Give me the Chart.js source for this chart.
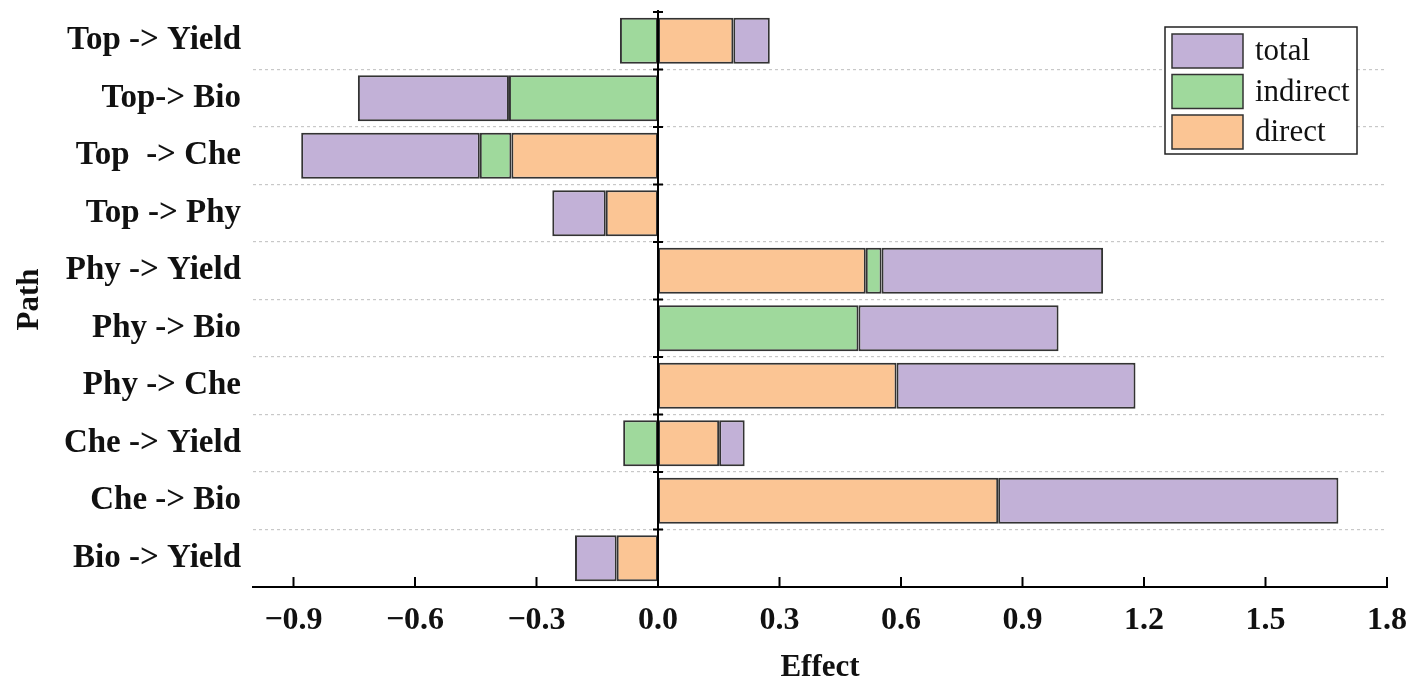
<!DOCTYPE html>
<html>
<head>
<meta charset="utf-8">
<script src="https://cdn.jsdelivr.net/npm/chart.js@4.4.1/dist/chart.umd.min.js"></script>
<style>
  html, body { margin: 0; padding: 0; background: #fff; }
  #wrap { width: 1418px; height: 689px; position: relative; }
</style>
</head>
<body>
<div id="wrap"><canvas id="effectChart"></canvas></div>
<script>
// paths, top to bottom
const paths = ['Top -> Yield', 'Top-> Bio', 'Top  -> Che', 'Top -> Phy', 'Phy -> Yield',
               'Phy -> Bio', 'Phy -> Che', 'Che -> Yield', 'Che -> Bio', 'Bio -> Yield'];
const directEffect   = [0.186, 0, -0.362, -0.129, 0.513, 0, 0.589, 0.151, 0.84, -0.102];
const indirectEffect = [-0.094, -0.368, -0.078, 0, 0.039, 0.495, 0, -0.086, 0, 0];
const totalEffect    = [0.09, -0.373, -0.441, -0.132, 0.547, 0.494, 0.59, 0.063, 0.84, -0.103];
const xTicks = [-0.9, -0.6, -0.3, 0, 0.3, 0.6, 0.9, 1.2, 1.5, 1.8];

const serif = "'Liberation Serif', 'Times New Roman', serif";
const colTotal = '#c2b1d7';
const colIndirect = '#9fd99c';
const colDirect = '#fbc594';
const edge = '#333333';

// inward x ticks, zero line, little marks on it, and the boxed legend
const decorPlugin = {
    id: 'decor',
    afterDraw(chart) {
        const c = chart.ctx;
        const area = chart.chartArea;
        const xs = chart.scales.x;
        const ys = chart.scales.y;
        c.save();
        c.strokeStyle = '#000';

        const x0 = xs.getPixelForValue(0);
        c.lineWidth = 2;
        c.beginPath();
        c.moveTo(x0, area.top - 2);
        c.lineTo(x0, area.bottom);
        c.stroke();

        xTicks.forEach(v => {
            const px = xs.getPixelForValue(v);
            c.beginPath();
            c.moveTo(px, area.bottom);
            c.lineTo(px, area.bottom - 10);
            c.stroke();
        });

        const step = (ys.getPixelForValue(1) - ys.getPixelForValue(0));
        for (let i = 0; i < paths.length; i++) {
            const py = ys.getPixelForValue(i) - step / 2;
            c.beginPath();
            c.moveTo(x0 - 5, py);
            c.lineTo(x0 + 5, py);
            c.stroke();
        }

        // legend
        const lx = area.right - 222, ly = 27, lw = 192, lh = 127;
        c.lineWidth = 1.5;
        c.strokeStyle = '#222';
        c.fillStyle = '#fff';
        c.fillRect(lx, ly, lw, lh);
        c.strokeRect(lx, ly, lw, lh);
        const items = [['total', colTotal], ['indirect', colIndirect], ['direct', colDirect]];
        c.font = '31px ' + serif;
        c.textBaseline = 'middle';
        items.forEach((it, i) => {
            const sy = ly + 7 + i * 40.5;
            c.fillStyle = it[1];
            c.fillRect(lx + 7, sy, 71, 34);
            c.strokeStyle = edge;
            c.strokeRect(lx + 7, sy, 71, 34);
            c.fillStyle = '#111';
            c.fillText(it[0], lx + 90, sy + 18);
        });
        c.restore();
    }
};

const ctx = document.getElementById('effectChart').getContext('2d');
const effectChart = new Chart(ctx, {
    type: 'bar',
    data: {
        labels: paths,
        datasets: [
            { label: 'direct', data: directEffect, backgroundColor: colDirect },
            { label: 'indirect', data: indirectEffect, backgroundColor: colIndirect },
            { label: 'total', data: totalEffect, backgroundColor: colTotal }
        ].map(ds => Object.assign(ds, {
            borderColor: edge,
            borderWidth: 2,
            borderSkipped: false,
            categoryPercentage: 1,
            barPercentage: 0.8,
            stack: 'effects'
        }))
    },
    options: {
        indexAxis: 'y',
        responsive: true,
        maintainAspectRatio: false,
        animation: false,
        layout: { padding: { top: 12, right: 31, left: 0, bottom: 0 } },
        plugins: {
            legend: { display: false },
            tooltip: { enabled: false }
        },
        scales: {
            x: {
                stacked: true,
                min: -1.0,
                max: 1.8,
                afterBuildTicks: scale => { scale.ticks = xTicks.map(v => ({ value: v })); },
                afterFit: scale => {
                    scale.height = 102;
                    scale.paddingLeft = 0;
                    scale.paddingRight = 0;
                },
                grid: { display: false },
                border: { display: true, color: '#000', width: 2 },
                ticks: {
                    padding: 7,
                    color: '#111',
                    font: { family: serif, size: 32, weight: 'bold' },
                    callback: v => v.toFixed(1).replace('-', '\u2212')
                },
                title: {
                    display: true,
                    text: 'Effect',
                    color: '#111',
                    font: { family: serif, size: 31, weight: 'bold' },
                    padding: { top: 0, bottom: 2 }
                }
            },
            y: {
                stacked: true,
                afterFit: scale => {
                    scale.width = 253;
                    scale.paddingTop = 0;
                    scale.paddingBottom = 0;
                },
                border: { display: false, dash: [3, 3] },
                grid: {
                    offset: true,
                    drawTicks: false,
                    color: c => (c.index === 0 || c.index === paths.length) ? 'rgba(0,0,0,0)' : '#c8c8c8',
                    lineWidth: 1.2
                },
                ticks: {
                    padding: 12,
                    color: '#111',
                    font: { family: serif, size: 33, weight: 'bold' }
                },
                title: {
                    display: true,
                    text: 'Path',
                    color: '#111',
                    font: { family: serif, size: 31, weight: 'bold' },
                    padding: { top: 11, bottom: 0 }
                }
            }
        }
    },
    plugins: [decorPlugin]
});
</script>
</body>
</html>
